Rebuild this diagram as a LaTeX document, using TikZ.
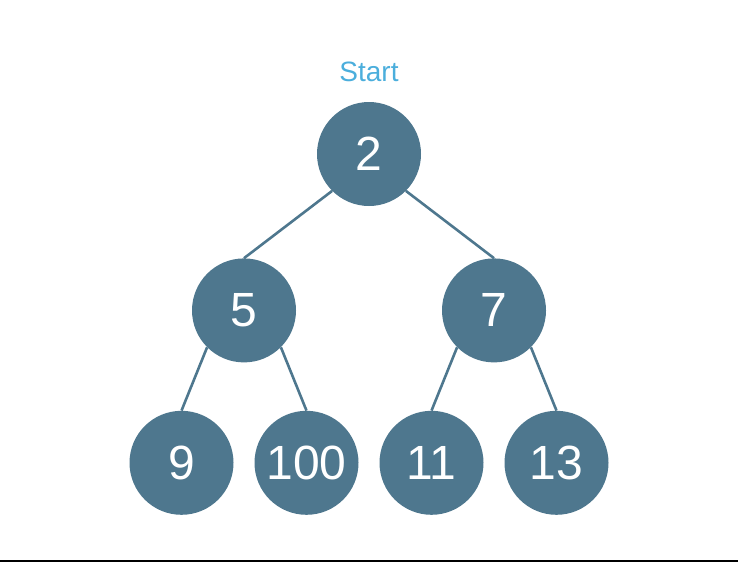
\documentclass[tikz,border=0pt]{standalone}
\usepackage{fontspec}
\setmainfont{Liberation Sans}
\usepackage{xcolor}
\usetikzlibrary{positioning}
\definecolor{heapnode}{HTML}{4E778E}
\definecolor{startblue}{HTML}{4BAEDC}
\definecolor{baseline}{HTML}{0F1A2A}
\tikzset{
	heap/.style = {circle, fill=heapnode, text=white, minimum size=104pt, inner sep=0pt,
		font=\fontsize{48}{48}\selectfont},
	startlabel/.style = {text=startblue, inner sep=0pt, font=\fontsize{28}{28}\selectfont},
	link/.style = {draw=heapnode, line width=2.6pt}
}
\begin{document}
\begin{tikzpicture}[x=1pt, y=1pt]
	\useasboundingbox (0,-562) rectangle (738,0);

					\node (root) [heap] at (369,-154) {2};
					\node (start) [startlabel, above = 20pt of root] {Start};
					\node (n5) [heap, below = 52pt of root, xshift=-125pt] {5};
					\node (n7) [heap, below = 52pt of root, xshift=125pt] {7};
					\node (n9) [heap, below = 48pt of n5, xshift=-62.5pt] {9};
					\node (n100) [heap, below = 48pt of n5, xshift=62.5pt] {100};
					\node (n11) [heap, below = 48pt of n7, xshift=-62.5pt] {11};
					\node (n13) [heap, below = 48pt of n7, xshift=62.5pt] {13};

					\path[link] (root.south west) edge (n5.north);
					\path[link] (root.south east) edge (n7.north);
					\path[link] (n5.south west) edge (n9.north);
					\path[link] (n5.south east) edge (n100.north);
					\path[link] (n7.south west) edge (n11.north);
					\path[link] (n7.south east) edge (n13.north);

					\coordinate (lineL) at (0,-561);
					\coordinate (lineR) at (738,-561);
					\draw[baseline, line width=2pt] (lineL) -- (lineR);
				\end{tikzpicture}
\end{document}
